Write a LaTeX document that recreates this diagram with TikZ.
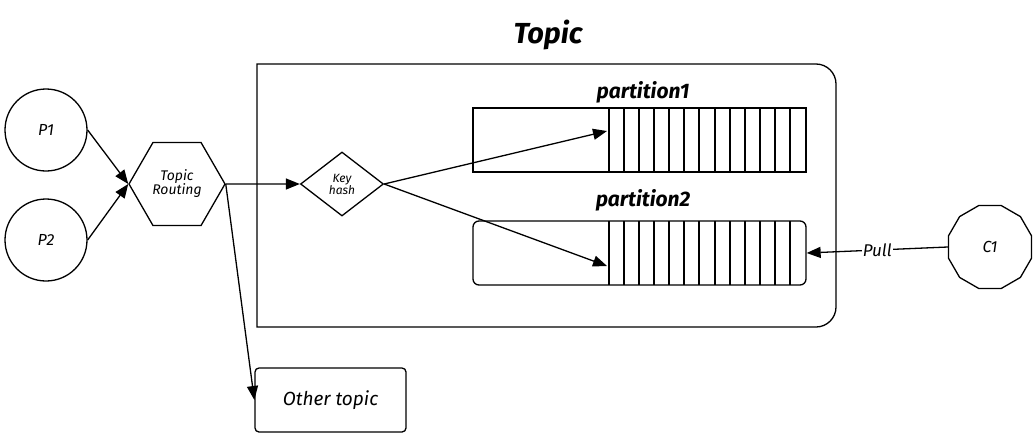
\documentclass[tikz,border=0pt]{standalone}
\usepackage{fontspec}
\setmainfont{Fira Sans}
\usetikzlibrary{arrows.meta,shapes.geometric}
\begin{document}
\begin{tikzpicture}[x=1pt,y=-1pt,
  line width=1.3pt,
  arr/.style={-{Triangle[length=14pt,width=11pt]}},
  lbl/.style={font=\itshape\fontsize{#1}{#1}\selectfont, inner sep=1pt},
  ttl/.style={font=\bfseries\itshape\fontsize{#1}{#1}\selectfont, inner sep=0pt},
  cell/.style={line width=1.2pt}]
\useasboundingbox (0,0) rectangle (1035,434);
% title
\node[ttl=29] (title) at (548,35) {Topic};
% topic container (square left corners, rounded right corners)
\draw (257,64) -- (816,64) .. controls (827,64) and (836,73) .. (836,84)
      -- (836,307) .. controls (836,318) and (827,327) .. (816,327)
      -- (257,327) -- cycle;
% producers
\node[draw, circle, minimum size=82pt, inner sep=0pt, lbl=16] (P1) at (46,130) {P1};
\node[draw, circle, minimum size=82pt, inner sep=0pt, lbl=16] (P2) at (46,240) {P2};
% routing hexagon
\node[draw, regular polygon, regular polygon sides=6, minimum size=96pt, inner sep=0pt,
      align=center, lbl=14] (hex) at (177,184) {Topic\\Routing};
% key hash diamond
\node[draw, diamond, minimum width=83pt, minimum height=64pt, inner sep=0pt,
      align=center, lbl=12] (kh) at (342,184) {Key\\hash};
% partition 1
\node[ttl=21] (pl1) at (643,92) {partition1};
\node[draw, minimum width=333pt, minimum height=64pt, inner sep=0pt] (pa1) at (639.5,140) {};
\foreach \x in {609,624,639,654,669,684,699,715,730,745,760,775,790}
  \draw[cell] (\x,108) -- (\x,172);
% partition 2
\node[ttl=21] (pl2) at (643,200) {partition2};
\node[draw, rounded corners=6pt, minimum width=333pt, minimum height=64pt, inner sep=0pt] (pa2) at (639.5,253) {};
\foreach \x in {609,624,639,654,669,684,699,715,730,745,760,775,790}
  \draw[cell] (\x,221) -- (\x,285);
% consumer
\node[draw, regular polygon, regular polygon sides=12, minimum size=86pt, inner sep=0pt, lbl=16] (C1) at (990,247) {C1};
% other topic
\node[draw, rounded corners=4pt, minimum width=151pt, minimum height=64pt, inner sep=0pt, lbl=19] (ot) at (330.5,400) {Other topic};
% target coordinates
\coordinate (t1) at (607,131);
\coordinate (t2) at (607,266);
% connectors
\draw[arr] (P1.east) -- (hex.west);
\draw[arr] (P2.east) -- (hex.west);
\draw[arr] (hex.east) -- (kh.west);
\draw[arr] (hex.east) -- (ot.west);
\draw[arr] (kh.east) -- (t1);
\draw[arr] (kh.east) -- (t2);
\draw[arr] (C1.west) -- node[fill=white, lbl=17, pos=0.5] (pull) {Pull} (pa2.east);
\end{tikzpicture}
\end{document}
